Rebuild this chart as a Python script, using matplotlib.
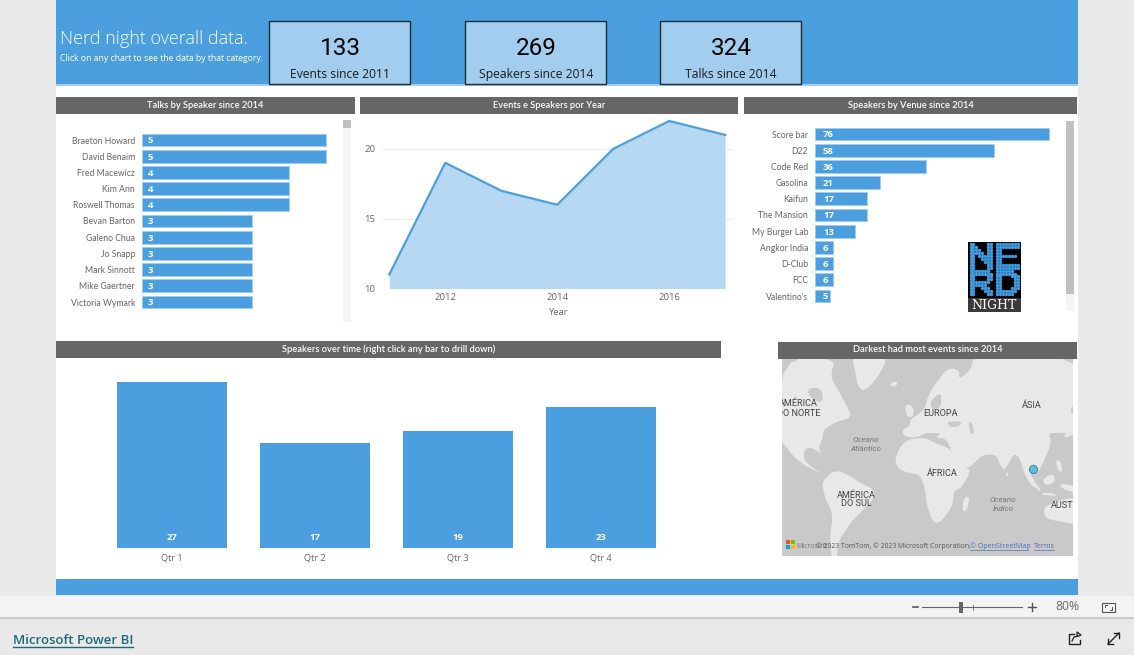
import matplotlib
matplotlib.use('Agg')
import matplotlib.pyplot as plt
from matplotlib.patches import Rectangle, Polygon

plt.rcParams['font.family'] = ['Open Sans', 'DejaVu Sans']

# dados dos graficos
speakers = ['Braeton Howard', 'David Benaim', 'Fred Macewicz', 'Kim Ann', 'Roswell Thomas', 'Bevan Barton',
            'Galeno Chua', 'Jo Snapp', 'Mark Sinnott', 'Mike Gaertner', 'Victoria Wymark']
talks = [5, 5, 4, 4, 4, 3, 3, 3, 3, 3, 3]

years = [2011, 2012, 2013, 2014, 2015, 2016, 2017]
events = [11, 19, 17, 16, 20, 22, 21]

venues = ['Score bar', 'D22', 'Code Red', 'Gasolina', 'Kaifun', 'The Mansion', 'My Burger Lab',
          'Angkor India', 'D-Club', 'FCC', "Valentino's"]
venue_speakers = [76, 58, 36, 21, 17, 17, 13, 6, 6, 6, 5]

quarters = ['Qtr 1', 'Qtr 2', 'Qtr 3', 'Qtr 4']
quarter_speakers = [27, 17, 19, 23]

kpi_values = ['133', '269', '324']
kpi_labels = ['Events since 2011', 'Speakers since 2014', 'Talks since 2014']

# contornos do mapa (pixels dos recortes, 3x)
north_america = [(0, 0), (170, 0), (150, 50), (170, 90), (205, 150), (215, 180), (170, 190), (130, 215), (130, 235),
                 (115, 270), (125, 290), (100, 270), (75, 270), (70, 300), (90, 325), (125, 345), (110, 340),
                 (70, 320), (35, 290), (10, 255), (0, 250)]
hudson = [(85, 90), (125, 90), (130, 135), (100, 125), (85, 110)]
south_america = [(130, 365), (165, 335), (205, 350), (240, 375), (285, 395), (280, 425), (245, 460), (215, 490),
                 (195, 520), (175, 550), (170, 610), (155, 610), (150, 530), (160, 470), (135, 420), (128, 385)]
greenland = [(215, -10), (325, -10), (300, 50), (255, 100), (235, 90), (225, 40)]
iceland = [(330, 75), (350, 70), (352, 82), (335, 88)]
eurasia = [(-25, 240), (-66, 235), (-66, 212), (-45, 205), (-45, 185), (-15, 165), (0, 150), (10, 110), (40, 65),
           (70, 30), (105, 35), (100, 65), (140, 35), (145, -10), (460, -10), (460, 125), (430, 160), (460, 175),
           (460, 225), (400, 225), (370, 225), (380, 255), (360, 300), (350, 325), (335, 350), (318, 325), (312, 340),
           (338, 385), (325, 390), (296, 345), (285, 300), (265, 285), (240, 340), (225, 320), (215, 290), (170, 290),
           (140, 325), (100, 340), (75, 265), (60, 240), (30, 240), (50, 225), (20, 225), (0, 225)]
baltic = [(15, 130), (50, 100), (48, 150), (20, 155)]
black_sea = [(65, 190), (110, 190), (105, 205), (75, 208)]
caspian = [(130, 190), (142, 195), (148, 230), (135, 225)]
britain = [(-62, 140), (-38, 140), (-32, 175), (-55, 178)]
africa = [(-60, 245), (0, 238), (30, 255), (70, 270), (85, 285), (115, 330), (140, 335), (110, 390), (85, 400),
          (85, 440), (50, 490), (25, 497), (5, 440), (0, 390), (-15, 350), (-50, 345), (-85, 330), (-90, 295)]
madagascar = [(115, 420), (135, 415), (125, 460), (112, 460)]
australia = [(355, 450), (390, 430), (460, 415), (460, 500), (400, 490), (360, 480)]
sumatra = [(312, 362), (325, 368), (350, 398), (340, 400)]
borneo = [(350, 365), (385, 345), (392, 370), (365, 385)]
java = [(350, 403), (395, 408), (392, 414), (350, 410)]
papua = [(400, 375), (460, 385), (460, 405), (415, 395)]
philippines = [(392, 305), (408, 310), (412, 345), (398, 335)]
japan = [(415, 235), (432, 215), (460, 205), (460, 220), (425, 240)]
sri_lanka = [(243, 342), (250, 345), (248, 356), (242, 352)]
venue_point = (1033, 469)

# letras do logo
letter_n = ['11000011', '11100011', '11110011', '11111011', '11011111', '11001111', '11000111', '11000011', '11000011']
letter_e = ['11111111', '11111111', '11000000', '11000000', '11111110', '11000000', '11000000', '11111111', '11111111']
letter_r = ['11111110', '11111111', '11000011', '11000011', '11111110', '11111100', '11001110', '11000111', '11000011']
letter_d = ['11111100', '11111110', '11000111', '11000011', '11000011', '11000011', '11000111', '11111110', '11111100']

BLUE = '#4b9fde'
LIGHT = '#a3cdee'
DARK = '#666666'
TEXT = '#666666'
LAND = '#e8e8e8'
SEA = '#c9c9c9'

W, H = 1134, 655
fig = plt.figure(figsize=(W / 100, H / 100), dpi=100, facecolor='#e9e9e9')

# camada de fundo em pixels
bg = fig.add_axes([0, 0, 1, 1])
bg.set_xlim(0, W)
bg.set_ylim(H, 0)
bg.axis('off')


def box(x0, y0, x1, y1, color, **kw):
    bg.add_patch(Rectangle((x0, y0), x1 - x0, y1 - y0, facecolor=color, edgecolor=kw.pop('edgecolor', 'none'), **kw))


def child(x0, y0, x1, y1):
    ax = fig.add_axes([x0 / W, 1 - y1 / H, (x1 - x0) / W, (y1 - y0) / H])
    ax.patch.set_alpha(0)
    for s in ax.spines.values():
        s.set_visible(False)
    return ax


def title_bar(x0, y0, x1, y1, text):
    box(x0, y0, x1, y1, DARK)
    bg.text((x0 + x1) / 2, (y0 + y1) / 2 - 0.5, text, color='white', fontsize=6.65, family='Lato',
            fontweight='semibold', ha='center', va='center')


def hbars(ax, names, values, per_unit, label_x):
    pos = list(range(len(names)))
    ax.barh(pos, values, height=0.8, color=BLUE, edgecolor=LIGHT, linewidth=0.7)
    ax.set_ylim(len(names) - 0.5, -0.5)
    ax.set_xlim(0, ax.get_position().width * W / per_unit)
    ax.set_yticks(pos, names, family='Lato')
    ax.set_xticks([])
    ax.tick_params(axis='y', length=0, pad=5, labelsize=6.2, labelcolor=TEXT)
    for p, v in zip(pos, values):
        ax.text(label_x / per_unit, p + 0.06, str(v), color='white', fontsize=6.8, fontweight='bold', va='center')


def smooth(pts, rounds=2):
    # arredonda os cantos do contorno
    for _ in range(rounds):
        out = []
        for i, (x, y) in enumerate(pts):
            nx, ny = pts[(i + 1) % len(pts)]
            out.append((0.75 * x + 0.25 * nx, 0.75 * y + 0.25 * ny))
            out.append((0.25 * x + 0.75 * nx, 0.25 * y + 0.75 * ny))
        pts = out
    return pts


# fundo do relatorio
box(56, 0, 1078, 595, 'white')
box(56, 0, 1078, 84, BLUE)
box(56, 84, 1078, 85.5, LIGHT)
box(56, 579, 1078, 595, BLUE)
box(0, 596, W, 617, '#f3f3f3')
box(0, 617, W, 619, '#c9c9c9')

bg.text(60, 38.5, 'Nerd night overall data.', color='white', fontsize=13, fontweight='light', va='center')
bg.text(60, 58.5, 'Click on any chart to see the data by that category.', color='white', fontsize=6.25, va='center')

for x0, val, lab in zip([269, 465, 660], kpi_values, kpi_labels):
    box(x0, 20.5, x0 + 141, 83.5, LIGHT, edgecolor='#1d2b36', linewidth=1)
    bg.text(x0 + 71, 48.5, val, color='black', fontsize=17.5, family='Roboto', ha='center', va='center')
    bg.text(x0 + 71, 74.5, lab, color='#1a1a1a', fontsize=8.7, ha='center', va='center')

title_bar(56, 97, 355, 114, 'Talks by Speaker since 2014')
title_bar(360, 97, 738, 114, 'Events e Speakers por Year')
title_bar(744, 97, 1077, 114, 'Speakers by Venue since 2014')
title_bar(56, 341, 721, 358, 'Speakers over time (right click any bar to drill down)')
title_bar(778, 342, 1077, 359, 'Darkest had most events since 2014')

# barras de palestrantes
box(343, 120, 351, 322, '#f4f4f4')
box(343, 120, 351, 128, '#c0c0c0')
ax1 = child(142, 131.9, 340, 310.1)
hbars(ax1, speakers, talks, 36.8, 6)

# area por ano
ax2 = child(382, 114, 733, 288.5)
ax2.fill_between(years, events, 10, color='#b6d8f2', linewidth=0)
ax2.plot(years, events, color=BLUE, linewidth=1.6)
ax2.set_xlim(2010.87, 2017.14)
ax2.set_ylim(10, 22.5)
ax2.set_yticks([10, 15, 20])
ax2.set_xticks([2012, 2014, 2016])
ax2.grid(axis='y', color='#eeeeee', linewidth=0.8)
ax2.set_axisbelow(True)
ax2.tick_params(length=0, labelsize=6.8, labelcolor=TEXT)
ax2.tick_params(axis='x', pad=3)
ax2.tick_params(axis='y', pad=5)
ax2.set_xlabel('Year', fontsize=6.8, color=TEXT, labelpad=4.5)

# barras de locais
box(1066, 121, 1074, 311, '#f4f4f4')
box(1066, 121, 1074, 294, '#c0c0c0')
ax3 = child(815, 125.9, 1060, 304.1)
hbars(ax3, venues, venue_speakers, 3.08, 8)

# colunas por trimestre
ax4 = child(100.5, 358, 672.5, 548)
ax4.bar(range(4), quarter_speakers, width=110 / 143, color=BLUE)
ax4.set_xlim(-0.5, 3.5)
ax4.set_ylim(0, 190 / 6.15)
ax4.set_xticks(range(4), quarters)
ax4.set_yticks([])
ax4.tick_params(length=0, labelsize=6.6, labelcolor=TEXT, pad=4)
for i, v in enumerate(quarter_speakers):
    ax4.text(i, 1.65, str(v), color='white', fontsize=6.8, fontweight='bold', ha='center', va='center')

# mapa
m = child(782, 359, 1073, 556)
m.set_xlim(782, 1073)
m.set_ylim(556, 359)
m.set_xticks([])
m.set_yticks([])
m.patch.set_alpha(1)
m.set_facecolor(SEA)


def left_crop(pts):
    return smooth([(780 + x / 3, 358 + y / 3) for x, y in pts])


def right_crop(pts):
    return smooth([(925 + x / 3, 358 + y / 3) for x, y in pts])


for poly in [north_america, south_america, greenland, iceland]:
    m.add_patch(Polygon(left_crop(poly), facecolor=LAND, edgecolor='none'))
m.add_patch(Polygon(left_crop(hudson), facecolor=SEA, edgecolor='none'))
for poly in [eurasia, africa, madagascar, australia, sumatra, borneo, java, papua, philippines, japan, sri_lanka, britain]:
    m.add_patch(Polygon(right_crop(poly), facecolor=LAND, edgecolor='none'))
for poly in [baltic, black_sea, caspian]:
    m.add_patch(Polygon(right_crop(poly), facecolor=SEA, edgecolor='none'))

for x, y, t, ha in [(818, 404, 'AMÉRICA', 'right'), (820, 413, 'DO NORTE', 'right'), (940, 413, 'EUROPA', 'center'),
                    (1032, 405, 'ÁSIA', 'center'), (942, 474, 'ÁFRICA', 'center'), (856, 495, 'AMÉRICA', 'center'),
                    (856, 504, 'DO SUL', 'center'), (1051, 506, 'AUST', 'left')]:
    m.text(x, y, t, fontsize=6.6, color='#444444', ha=ha, va='center', clip_on=True, family='Roboto')
for x, y, t in [(866, 440, 'Oceano'), (866, 449, 'Atlântico'), (1003, 500, 'Oceano'), (1003, 509, 'Índico')]:
    m.text(x, y, t, fontsize=5.8, color='#777777', ha='center', va='center', style='italic', family='Roboto')
m.scatter([venue_point[0]], [venue_point[1]], s=34, color='#62bcd8', edgecolor='#3d8ea8', linewidth=0.8, zorder=5)

for x, y, c in [(786, 540, '#f25022'), (790.5, 540, '#7fba00'), (786, 544.5, '#00a4ef'), (790.5, 544.5, '#ffb900')]:
    m.add_patch(Rectangle((x, y), 4, 4, facecolor=c, edgecolor='none', zorder=6))
m.text(796, 546, 'Microsoft', fontsize=5, color='#777777', va='center', zorder=6)
m.text(816, 546, '© 2023 TomTom, © 2023 Microsoft Corporation,', fontsize=4.95, color='#555555', va='center', zorder=6)
m.text(970, 546, '© OpenStreetMap', fontsize=5.15, color='#4a6fb5', va='center', zorder=6)
m.text(1034, 546, 'Terms', fontsize=5.15, color='#4a6fb5', va='center', zorder=6)
m.plot([970, 1028], [549.5, 549.5], color='#4a6fb5', linewidth=0.5, zorder=6)
m.plot([1034, 1054], [549.5, 549.5], color='#4a6fb5', linewidth=0.5, zorder=6)

# logo por cima das barras de locais
logo = child(968, 242, 1021, 312)
logo.set_xlim(968, 1021)
logo.set_ylim(312, 242)
logo.set_xticks([])
logo.set_yticks([])
logo.patch.set_alpha(1)
logo.set_facecolor('black')
logo.add_patch(Rectangle((968, 298), 53, 14, facecolor='#3a3a3a', edgecolor='none'))
xs, ys = [], []
for letter, col0, row0 in [(letter_n, 0, 0), (letter_e, 9, 0), (letter_r, 0, 9), (letter_d, 9, 9)]:
    for r, line in enumerate(letter):
        for c, ch in enumerate(line):
            if ch == '1':
                xs.append(970.5 + (col0 + c) * 2.95)
                ys.append(244 + (row0 + r) * 2.95)
logo.scatter(xs, ys, s=6, color='#3f9be0', linewidth=0)
logo.text(994.5, 305.5, 'NIGHT', color='white', fontsize=9, family='DejaVu Serif', ha='center', va='center')

# barra inferior
bg.plot([922, 1022], [607, 607], color='#666666', linewidth=0.8)
bg.plot([972.5, 972.5], [604.5, 609.5], color='#666666', linewidth=0.6)
box(959, 602, 963, 613, '#666666')
bg.plot([913, 917.5], [607, 607], color='#555555', linewidth=1.2)
bg.plot([1028, 1036], [606.5, 606.5], color='#555555', linewidth=1)
bg.plot([1032, 1032], [602.5, 610.5], color='#555555', linewidth=1)
bg.text(1067, 607, '80%', fontsize=8.8, color='#6a6a6a', ha='center', va='center')
box(1102, 602.5, 1115, 612, 'none', edgecolor='#555555', linewidth=0.8)
bg.plot([1105, 1105, 1107], [607, 605, 605], color='#555555', linewidth=0.7)
bg.plot([1112, 1112, 1110], [607, 609.5, 609.5], color='#555555', linewidth=0.7)

bg.text(13, 640, 'Microsoft Power BI', fontsize=9.55, color='#1c6b74', fontweight='semibold', va='center')
bg.plot([13, 133], [646.5, 646.5], color='#1c6b74', linewidth=1)

# icones de compartilhar e expandir
bg.plot([1074, 1069, 1069, 1080, 1080], [634, 634, 644, 644, 640], color='#222222', linewidth=1)
bg.plot([1072, 1074, 1079, 1081, 1077, 1077], [641, 637, 636, 635, 632, 636], color='#222222', linewidth=0.9)
bg.plot([1108, 1119], [644, 633], color='#222222', linewidth=1)
bg.plot([1108, 1108, 1113], [639, 644, 644], color='#222222', linewidth=1)
bg.plot([1114, 1119, 1119], [633, 633, 638], color='#222222', linewidth=1)

fig.savefig('out.png', dpi=100, facecolor=fig.get_facecolor())
